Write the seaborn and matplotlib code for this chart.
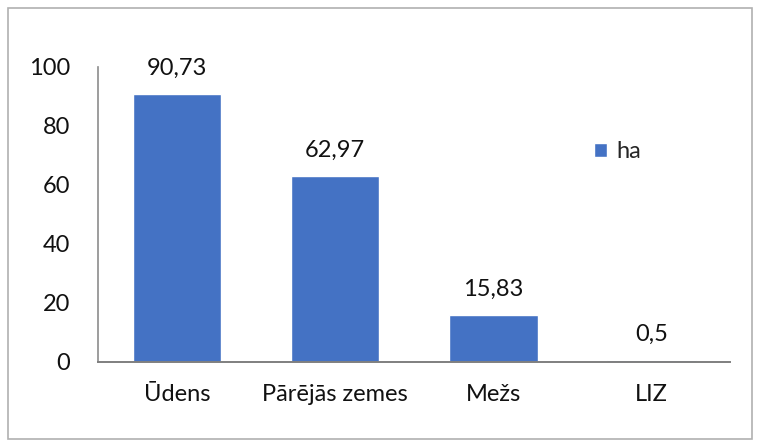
import matplotlib
matplotlib.use('Agg')
import matplotlib.pyplot as plt
import seaborn as sns
import pandas as pd
from matplotlib.patches import Rectangle

categories = ['Ūdens', 'Pārējās zemes', 'Mežs', 'LIZ']
values = [90.73, 62.97, 15.83, 0.5]
labels = ['90,73', '62,97', '15,83', '0,5']
series_name = 'ha'

df = pd.DataFrame({'cat': categories, 'val': values})

sns.set_style('white')
plt.rcParams['font.family'] = ['Lato', 'DejaVu Sans']

fig = plt.figure(figsize=(7.62, 4.43), dpi=100)
ax = fig.add_axes([0.1286, 0.183, 0.830, 0.666])

sns.barplot(data=df, x='cat', y='val', color='#4472C4', width=0.56,
            saturation=1, ax=ax, label=series_name)

# value labels
for i, (v, lab) in enumerate(zip(values, labels)):
    ax.annotate(lab, (i, v), xytext=(0, 11), textcoords='offset points',
                ha='center', va='bottom', fontsize=17, color='#111111')

ax.set_ylim(0, 100)
ax.set_yticks([0, 20, 40, 60, 80, 100])
ax.set_xlim(-0.5, 3.5)
ax.set_xlabel('')
ax.set_ylabel('')
ax.tick_params(axis='both', length=0, labelsize=17, colors='#111111')
ax.tick_params(axis='y', pad=20)
ax.tick_params(axis='x', pad=16)

for s in ['top', 'right']:
    ax.spines[s].set_visible(False)
ax.spines['left'].set_color('#8c8c8c')
ax.spines['bottom'].set_color('#7f7f7f')
ax.spines['left'].set_linewidth(1.2)
ax.spines['bottom'].set_linewidth(1.4)

leg = ax.legend(loc='upper left', bbox_to_anchor=(0.75, 0.82), frameon=False,
                fontsize=17, handlelength=0.55, handleheight=0.55,
                handletextpad=0.4)

# outer chart border
fig.patches.append(Rectangle((0.011, 0.01), 0.976, 0.972, transform=fig.transFigure,
                             fill=False, edgecolor='#b0b0b0', linewidth=1.2))

fig.savefig('out.png', dpi=100)
